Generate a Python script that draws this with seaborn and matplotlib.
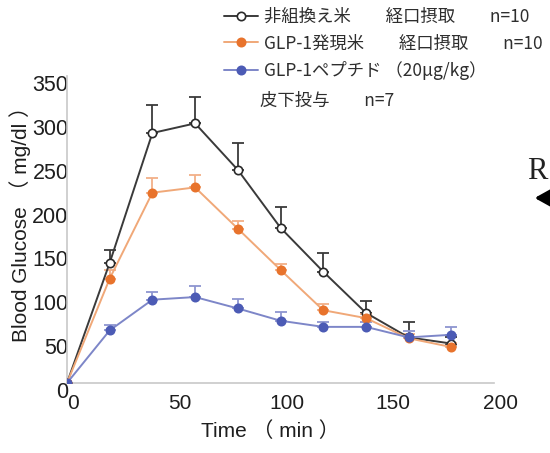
import matplotlib
matplotlib.use("Agg")
import matplotlib.pyplot as plt
import matplotlib.transforms as mtransforms
import pandas as pd
import seaborn as sns

# Sampling times (min) and mean blood glucose with upper SEM for each group
time_min = [0, 20, 40, 60, 80, 100, 120, 140, 160, 180]

nonrecomb_rice = [0, 137, 285, 296, 243, 177, 127, 80, 52, 45]
nonrecomb_rice_sem = [0, 15, 32, 30, 31, 24, 21, 13, 17, 8]

glp1_rice = [0, 119, 217, 223, 176, 129, 83, 74, 51, 41]
glp1_rice_sem = [0, 10, 17, 14, 9, 7, 7, 5, 5, 5]

glp1_peptide = [0, 60, 95, 98, 85, 71, 64, 64, 52, 55]
glp1_peptide_sem = [0, 6, 9, 13, 11, 10, 5, 5, 7, 9]

series_labels = [
    "非組換え米　　経口摂取　　n=10",
    "GLP-1発現米　　経口摂取　　n=10",
    "GLP-1ペプチド （20μg/kg）",
]
peptide_route = "皮下投与　　n=7"
x_ticks = [0, 50, 100, 150, 200]
y_ticks = [0, 50, 100, 150, 200, 250, 300, 350]

sns.set_theme(style="white")
plt.rcParams["font.family"] = ["Liberation Sans", "Noto Sans CJK JP", "DejaVu Sans"]

fig = plt.figure(figsize=(5.5, 4.53), dpi=100)
ax = fig.add_axes([0.1218, 0.1545, 0.7764, 0.6777])

styles = [
    # values, sem, line colour, marker face, marker edge, errorbar colour
    (nonrecomb_rice, nonrecomb_rice_sem, "#3a3a3a", "white", "#2a2a2a", "#3a3a3a"),
    (glp1_rice, glp1_rice_sem, "#f0a878", "#e8732c", "#e8732c", "#f2b088"),
    (glp1_peptide, glp1_peptide_sem, "#7d86c8", "#4c5bb5", "#4c5bb5", "#8d95d0"),
]

for (vals, sem, lc, mfc, mec, ec), label in zip(styles, series_labels):
    df = pd.DataFrame({"time": time_min, "glucose": vals})
    # upper-only error bars with caps
    ax.errorbar(time_min, vals, yerr=[[0] * len(sem), sem], fmt="none",
                ecolor=ec, elinewidth=1.3, capsize=4, capthick=1.3, zorder=2)
    sns.lineplot(data=df, x="time", y="glucose", ax=ax, color=lc, linewidth=1.4,
                 marker="o", markersize=6, markerfacecolor=mfc,
                 markeredgecolor=mec, markeredgewidth=1.2, label=label, zorder=3)

ax.set_xlim(0, 200)
ax.set_ylim(0, 350)
ax.set_xticks(x_ticks)
ax.set_yticks(y_ticks)

for side in ["top", "right"]:
    ax.spines[side].set_visible(False)
for side in ["left", "bottom"]:
    ax.spines[side].set_color("#c8c8c8")
    ax.spines[side].set_linewidth(1.2)

ax.tick_params(axis="x", length=3, width=1, color="#d8d8d8", direction="in",
               pad=8, labelsize=15, labelcolor="#1e1e1e")
ax.tick_params(axis="y", length=0, pad=1, labelsize=15.5, labelcolor="#1e1e1e")

# nudge the tick labels slightly off their tick positions
x_shift = mtransforms.ScaledTranslation(6 / 100, 0, fig.dpi_scale_trans)
y_shift = mtransforms.ScaledTranslation(3 / 100, -7 / 100, fig.dpi_scale_trans)
for lbl in ax.get_xticklabels():
    lbl.set_transform(lbl.get_transform() + x_shift)
for lbl in ax.get_yticklabels():
    lbl.set_transform(lbl.get_transform() + y_shift)

ax.set_xlabel("Time （ min ）", fontsize=15, color="#1e1e1e")
ax.set_ylabel("Blood Glucose （ mg/dl ）", fontsize=15, color="#1e1e1e")
ax.xaxis.set_label_coords(0.475, -0.125)
ax.yaxis.set_label_coords(-0.084, 0.534)

leg = ax.legend(loc="upper left", bbox_to_anchor=(0.394, 0.997),
                bbox_transform=fig.transFigure, frameon=False,
                prop={"family": ["Noto Sans CJK JP"], "size": 12.5},
                handlelength=2.0, handletextpad=0.35, labelspacing=0.47,
                borderaxespad=0)
for t in leg.get_texts():
    t.set_color("#2e2e2e")

# second line of the peptide entry, set directly under its legend text
fig.canvas.draw()
bb = leg.get_texts()[2].get_window_extent()
row_gap = 27
fig.text((bb.x0 - 4) / fig.bbox.width, (bb.y0 - row_gap + 1) / fig.bbox.height,
         peptide_route, family=["Noto Sans CJK JP"], fontsize=12.5, color="#2e2e2e")

# edge of the neighbouring panel
fig.text(0.958, 0.605, "R", fontsize=22, family="Liberation Serif", color="#222222")
ax.annotate("", xy=(0.967, 0.563), xytext=(1.06, 0.563),
            xycoords="figure fraction", textcoords="figure fraction",
            arrowprops=dict(arrowstyle="-|>,head_length=0.9,head_width=0.5",
                            color="black", lw=2.5))

fig.savefig("out.png", dpi=100)
